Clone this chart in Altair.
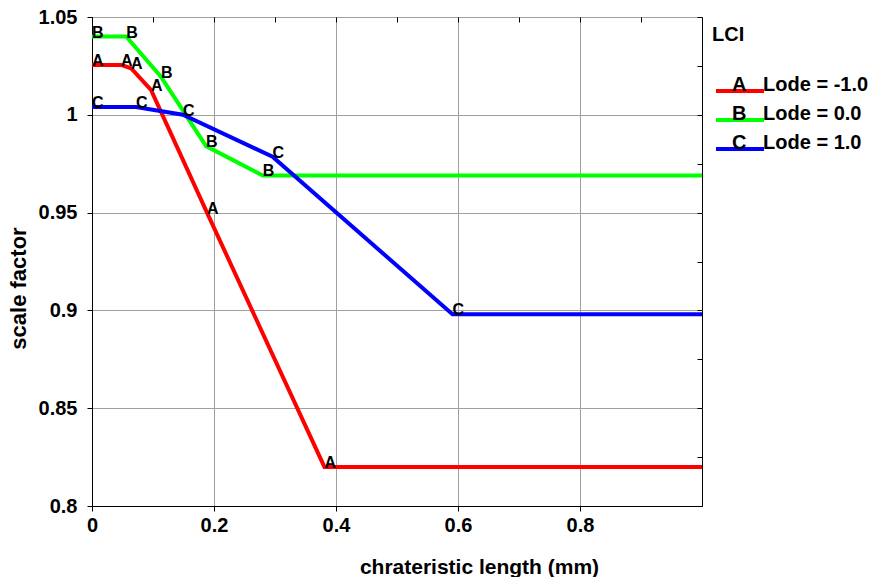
import altair as alt
import pandas as pd

series_names = ["Lode = -1.0", "Lode = 0.0", "Lode = 1.0"]
series_letters = ["A", "B", "C"]
series_colors = ["#ff0000", "#00ff00", "#0000ff"]

a_x = [0.0, 0.0475, 0.064, 0.0967, 0.1885, 0.381, 1.0]
a_y = [1.0255, 1.0255, 1.0238, 1.0127, 0.950, 0.820, 0.820]
b_x = [0.0, 0.056, 0.113, 0.187, 0.280, 1.0]
b_y = [1.040, 1.040, 1.0195, 0.984, 0.969, 0.969]
c_x = [0.0, 0.072, 0.149, 0.296, 0.591, 1.0]
c_y = [1.004, 1.004, 1.0, 0.9786, 0.898, 0.898]

x_major = [0, 0.2, 0.4, 0.6, 0.8]
x_minor = [0.1, 0.3, 0.5, 0.7, 0.9]
y_major = [0.8, 0.85, 0.9, 0.95, 1.0, 1.05]
y_minor = [0.825, 0.875, 0.925, 0.975, 1.025]

rows = []
for name, letter, xs, ys in zip(series_names, series_letters, [a_x, b_x, c_x], [a_y, b_y, c_y]):
    for i, (xv, yv) in enumerate(zip(xs, ys)):
        rows.append(dict(x=xv, y=yv, series=name, letter=letter, idx=i,
                         marked=1 if i < len(xs) - 1 else 0))
df = pd.DataFrame(rows)

FONT = "Liberation Sans"
NB = "\u00a0"
xscale = alt.Scale(domain=[0, 1], nice=False, zero=False)
yscale = alt.Scale(domain=[0.8, 1.05], nice=False, zero=False)

label_expr = "{" + ", ".join(
    f"'{n}': '{l}{NB * 3}{n}'" for n, l in zip(series_names, series_letters)
) + "}[datum.label]"

common = dict(labelFont=FONT, labelFontSize=20, labelFontWeight="bold", labelColor="black",
              titleFont=FONT, titleFontWeight="bold", titleColor="black",
              tickColor="black", domainColor="black")

main_x = alt.Axis(values=x_major, format="~g", grid=True, gridColor="#a0a0a0", gridWidth=1,
                  tickSize=5, labelPadding=4, labelFlush=False, titleFontSize=21,
                  titlePadding=21, titleX=387, titleAlign="center", **common)
main_y = alt.Axis(values=y_major, format="~g", grid=True, gridColor="#a0a0a0", gridWidth=1,
                  tickSize=5, labelPadding=10, labelFlush=False, labelOverlap=False,
                  titleFontSize=22, titlePadding=8, titleY=271, **common)

deco = dict(labels=False, domain=False, grid=False, tickSize=5, tickColor="black",
            offset=-5, minExtent=0)
minor_x = alt.Axis(values=x_minor, **deco)
minor_y = alt.Axis(values=y_minor, **deco)
right_y = alt.Axis(values=y_major, orient="right", **deco)
top_x = alt.Axis(values=x_major, orient="top", **deco)

base = alt.Chart(df)

lines = base.mark_line(strokeWidth=4, clip=True).encode(
    x=alt.X("x:Q", scale=xscale, axis=main_x, title="chrateristic length (mm)"),
    y=alt.Y("y:Q", scale=yscale, axis=main_y, title="scale factor"),
    color=alt.Color("series:N",
                    scale=alt.Scale(domain=series_names, range=series_colors),
                    legend=alt.Legend(
                        title="LCI", orient="right", offset=1, padding=8,
                        symbolType="M-3,0H21", symbolSize=16, symbolStrokeWidth=4,
                        symbolOffset=0, symbolFillColor="transparent",
                        clipHeight=22, rowPadding=2, labelOffset=0,
                        labelBaseline="alphabetic", labelExpr=label_expr,
                        labelFont=FONT, labelFontSize=20, labelFontWeight="bold",
                        labelColor="black", labelLimit=300,
                        titleFont=FONT, titleFontSize=20, titleFontWeight="bold",
                        titleColor="black", titlePadding=35)),
    order="idx:Q",
)

letters = base.transform_filter("datum.marked == 1").mark_text(
    align="left", baseline="alphabetic", font=FONT, fontSize=16, fontWeight="bold",
    color="black", dy=1
).encode(
    x=alt.X("x:Q", scale=xscale, axis=minor_x, title=None),
    y=alt.Y("y:Q", scale=yscale, axis=minor_y, title=None),
    text="letter:N",
)

frame = base.mark_point(opacity=0, size=1).encode(
    x=alt.X("x:Q", scale=xscale, axis=top_x, title=None),
    y=alt.Y("y:Q", scale=yscale, axis=right_y, title=None),
)

chart = alt.layer(lines, letters, frame).resolve_axis(
    x="independent", y="independent"
).properties(
    width=610, height=489,
    padding={"left": 7, "top": 7, "right": 0, "bottom": 0},
).configure_view(stroke="black", strokeWidth=1)

chart.save("out.html", embed_options={"renderer": "svg", "actions": False})
